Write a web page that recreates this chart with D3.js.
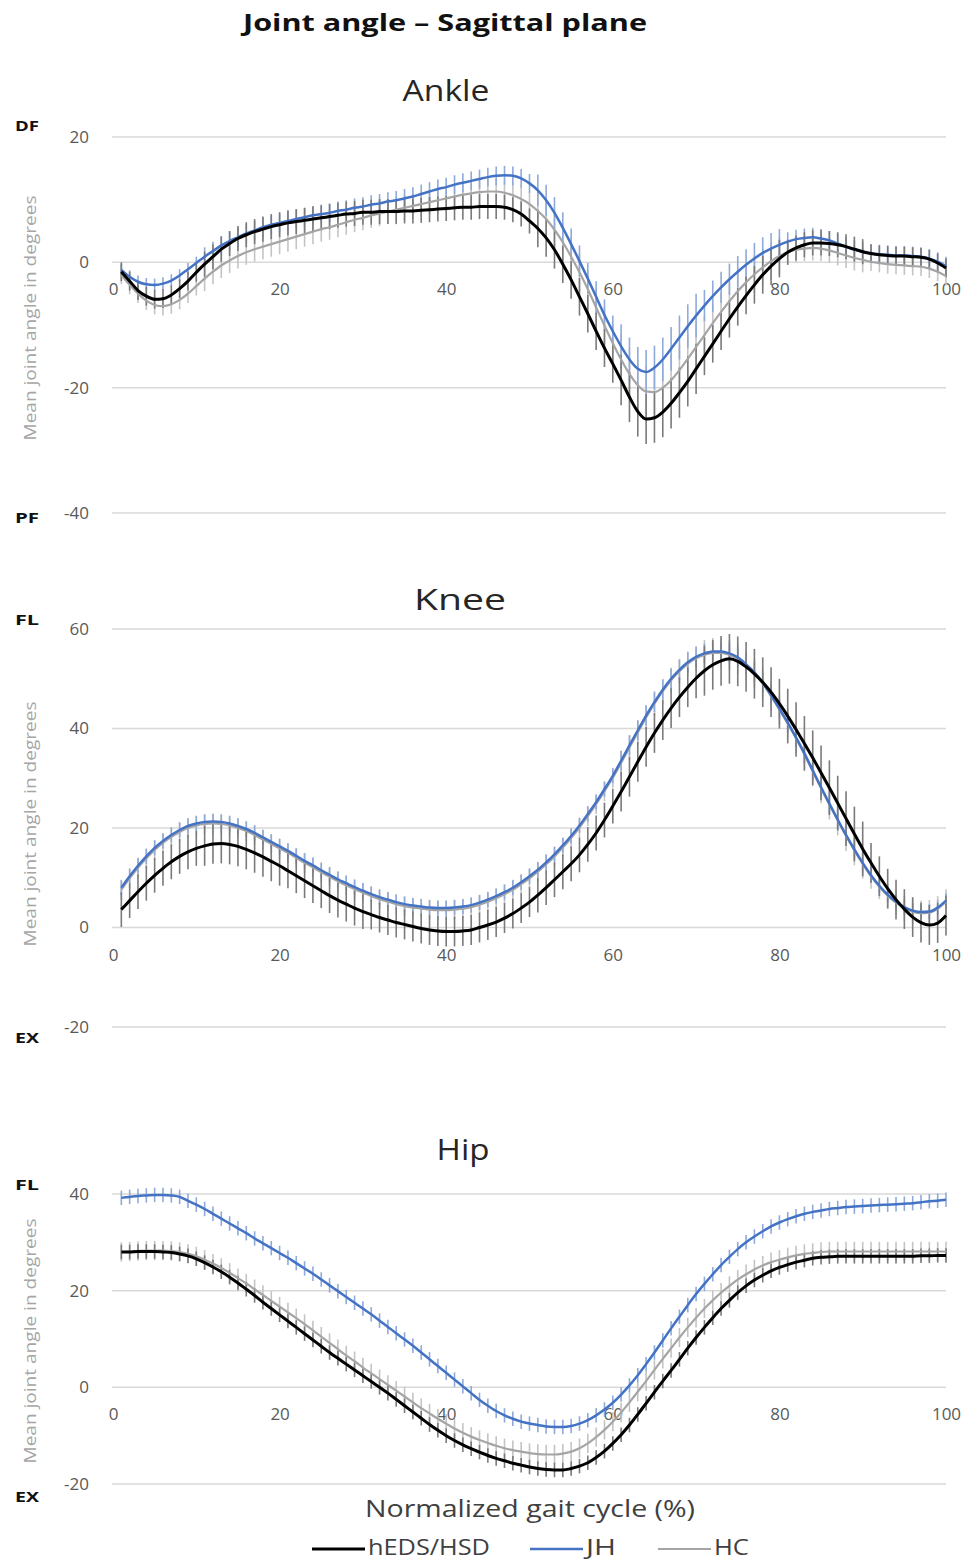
<!DOCTYPE html>
<html>
<head>
<meta charset="utf-8">
<script src="https://cdn.jsdelivr.net/npm/d3@7"></script>
<style>
  html, body { margin: 0; padding: 0; background: #fff; }
  svg { display: block; font-family: "Open Sans", "Noto Sans", sans-serif; }
</style>
</head>
<body>
<svg id="chart" width="966" height="1561"></svg>
<script>
// Gelenkwinkel Sagittalebene – Mittelwert +/- SD je Gruppe, 1..100 % Gangzyklus

const groups = ["HC", "JH", "hEDS/HSD"];   // Zeichenreihenfolge (schwarz oben)
const legendOrder = ["hEDS/HSD", "JH", "HC"];
const xTicks = [0, 20, 40, 60, 80, 100];

// ---- Ankle ----
const ankleTicks = [-40, -20, 0, 20];
const ankleHeds = [
  -1.5, -3.0, -4.5, -5.4, -5.9, -5.8, -5.2, -4.2, -3.0, -1.6,
  -0.3, 0.9, 2.1, 3.0, 3.8, 4.4, 4.9, 5.3, 5.7, 6.0,
  6.3, 6.5, 6.7, 6.9, 7.1, 7.3, 7.5, 7.7, 7.8, 8.0,
  8.0, 8.1, 8.1, 8.1, 8.2, 8.2, 8.3, 8.4, 8.5, 8.6,
  8.7, 8.8, 8.8, 8.9, 8.9, 8.9, 8.8, 8.4, 7.7, 6.6,
  5.4, 3.9, 2.0, -0.3, -2.8, -5.5, -8.2, -11.0, -13.7, -16.2,
  -18.8, -21.5, -23.8, -25.0, -24.8, -23.9, -22.5, -20.8, -19.0, -17.0,
  -15.0, -13.0, -11.0, -9.0, -7.1, -5.3, -3.6, -2.0, -0.6, 0.6,
  1.6, 2.3, 2.8, 3.1, 3.1, 3.0, 2.8, 2.5, 2.1, 1.7,
  1.4, 1.2, 1.1, 1.0, 1.0, 0.9, 0.8, 0.5, -0.1, -0.9
];
const ankleJh = [
  -1.2, -2.3, -3.1, -3.5, -3.6, -3.4, -2.9, -2.1, -1.1, -0.1,
  0.9, 1.8, 2.7, 3.4, 4.0, 4.6, 5.1, 5.6, 6.0, 6.3,
  6.6, 6.9, 7.2, 7.5, 7.7, 7.9, 8.2, 8.4, 8.7, 8.9,
  9.2, 9.4, 9.7, 9.9, 10.2, 10.5, 10.9, 11.3, 11.7, 12.0,
  12.4, 12.7, 13.0, 13.3, 13.6, 13.8, 13.9, 13.8, 13.4, 12.6,
  11.5, 9.9, 7.9, 5.5, 2.9, 0.2, -2.6, -5.5, -8.4, -11.0,
  -13.4, -15.5, -17.0, -17.5, -16.8, -15.5, -13.8, -12.0, -10.2, -8.5,
  -6.9, -5.4, -4.0, -2.7, -1.5, -0.4, 0.6, 1.5, 2.2, 2.8,
  3.3, 3.7, 3.9, 4.0, 3.8, 3.5, 3.0, 2.5, 2.0, 1.7,
  1.4, 1.3, 1.2, 1.1, 1.1, 1.0, 0.9, 0.6, 0.1, -0.6
];
const ankleHc = [
  -2.0, -3.6, -5.0, -6.1, -6.8, -7.0, -6.7, -6.0, -5.0, -3.8,
  -2.6, -1.5, -0.5, 0.3, 1.0, 1.6, 2.1, 2.5, 2.9, 3.3,
  3.7, 4.1, 4.5, 4.9, 5.3, 5.6, 6.0, 6.4, 6.8, 7.1,
  7.5, 7.8, 8.1, 8.4, 8.7, 9.0, 9.3, 9.6, 9.9, 10.2,
  10.5, 10.8, 11.0, 11.2, 11.3, 11.3, 11.1, 10.7, 10.1, 9.3,
  8.2, 6.9, 5.2, 3.2, 0.9, -1.6, -4.3, -7.2, -10.1, -12.9,
  -15.5, -17.8, -19.6, -20.6, -20.7, -20.0, -18.8, -17.2, -15.4, -13.5,
  -11.6, -9.7, -7.9, -6.2, -4.6, -3.2, -1.9, -0.8, 0.2, 1.0,
  1.6, 2.0, 2.2, 2.3, 2.2, 1.9, 1.5, 1.1, 0.7, 0.4,
  0.1, -0.1, -0.3, -0.4, -0.5, -0.6, -0.7, -1.0, -1.5, -2.2
];
// SD je 10-%-Abschnitt
const ankleSdHeds = [1.5, 2, 2, 2, 2, 3, 4, 3, 2, 1.5];
const ankleSdJh   = [1, 1.5, 1.5, 1.5, 1.5, 2.5, 3.5, 2.5, 1.5, 1.5];
const ankleSdHc   = [1.5, 2, 2, 2, 2, 3, 4, 3, 2, 1.5];

// ---- Knee ----
const kneeTicks = [-20, 0, 20, 40, 60];
const kneeHeds = [
  3.6, 5.4, 7.2, 8.9, 10.5, 11.9, 13.2, 14.3, 15.2, 15.9,
  16.4, 16.8, 16.9, 16.7, 16.3, 15.7, 15.0, 14.2, 13.3, 12.4,
  11.4, 10.4, 9.4, 8.4, 7.4, 6.4, 5.5, 4.7, 3.9, 3.2,
  2.6, 2.0, 1.5, 1.0, 0.6, 0.2, -0.2, -0.5, -0.7, -0.8,
  -0.8, -0.7, -0.5, 0.0, 0.5, 1.1, 1.9, 2.8, 3.9, 5.1,
  6.5, 8.0, 9.6, 11.2, 12.8, 14.6, 16.7, 19.0, 21.6, 24.4,
  27.3, 30.3, 33.3, 36.3, 39.1, 41.7, 44.1, 46.3, 48.3, 50.1,
  51.6, 52.8, 53.6, 54.0, 53.5, 52.4, 51.0, 49.3, 47.3, 45.0,
  42.5, 39.8, 37.0, 34.1, 31.1, 28.1, 25.0, 21.9, 18.8, 15.8,
  13.0, 10.3, 7.8, 5.6, 3.7, 2.1, 1.0, 0.5, 0.9, 2.4
];
const kneeJh = [
  8.0, 10.3, 12.4, 14.3, 16.0, 17.4, 18.6, 19.6, 20.4, 20.9,
  21.2, 21.3, 21.2, 20.9, 20.4, 19.8, 19.0, 18.1, 17.2, 16.3,
  15.4, 14.4, 13.4, 12.5, 11.5, 10.6, 9.7, 8.9, 8.1, 7.4,
  6.7, 6.1, 5.6, 5.1, 4.7, 4.4, 4.2, 4.0, 3.9, 3.9,
  4.0, 4.2, 4.5, 5.0, 5.6, 6.3, 7.1, 8.0, 9.1, 10.3,
  11.6, 13.1, 14.7, 16.5, 18.4, 20.5, 22.8, 25.2, 27.8, 30.5,
  33.5, 36.6, 39.6, 42.6, 45.3, 47.8, 50.0, 51.8, 53.3, 54.4,
  55.1, 55.5, 55.5, 55.1, 54.3, 52.9, 51.3, 49.2, 46.7, 44.0,
  41.2, 38.2, 35.0, 31.6, 28.2, 24.9, 21.7, 18.6, 15.7, 13.0,
  10.5, 8.4, 6.6, 5.2, 4.1, 3.4, 3.1, 3.2, 4.0, 5.4
];
const kneeHc = [
  7.6, 9.9, 12.0, 13.9, 15.6, 17.0, 18.2, 19.2, 20.0, 20.5,
  20.8, 20.9, 20.8, 20.5, 20.0, 19.4, 18.6, 17.7, 16.8, 15.9,
  15.0, 14.0, 13.0, 12.1, 11.1, 10.2, 9.3, 8.5, 7.7, 7.0,
  6.3, 5.7, 5.2, 4.7, 4.3, 4.0, 3.8, 3.6, 3.5, 3.5,
  3.6, 3.8, 4.1, 4.6, 5.2, 5.9, 6.7, 7.6, 8.7, 9.9,
  11.2, 12.7, 14.3, 16.1, 18.0, 20.1, 22.4, 24.8, 27.4, 30.1,
  33.1, 36.2, 39.2, 42.2, 45.0, 47.5, 49.7, 51.5, 53.0, 54.1,
  54.8, 55.2, 55.2, 54.8, 54.0, 52.7, 51.1, 49.0, 46.5, 43.8,
  41.0, 38.0, 34.8, 31.4, 28.0, 24.7, 21.5, 18.4, 15.5, 12.8,
  10.3, 8.2, 6.4, 5.0, 3.9, 3.2, 2.9, 3.0, 3.8, 5.2
];
const kneeSdHeds = [3.5, 4, 3.5, 3, 3, 3.5, 4, 5, 5.5, 4];
const kneeSdJh   = [1.5, 1.5, 1.5, 1.5, 1.5, 1.5, 2, 2, 2, 1.5];
const kneeSdHc   = [2, 2, 2, 2, 2, 2, 2.5, 3, 3, 2.5];

// ---- Hip ----
const hipTicks = [-20, 0, 20, 40];
const hipHeds = [
  28.0, 28.0, 28.1, 28.1, 28.1, 28.0, 27.9, 27.6, 27.2, 26.6,
  25.8, 24.9, 23.9, 22.8, 21.6, 20.3, 19.0, 17.6, 16.3, 15.0,
  13.7, 12.4, 11.1, 9.8, 8.5, 7.2, 6.0, 4.8, 3.6, 2.4,
  1.2, 0.0, -1.2, -2.5, -3.8, -5.1, -6.4, -7.7, -8.9, -10.0,
  -11.0, -11.9, -12.7, -13.4, -14.1, -14.7, -15.2, -15.7, -16.1, -16.5,
  -16.8, -17.0, -17.1, -17.1, -16.8, -16.3, -15.6, -14.5, -13.2, -11.6,
  -9.8, -7.8, -5.6, -3.3, -1.0, 1.3, 3.5, 5.8, 8.1, 10.3,
  12.4, 14.4, 16.3, 18.0, 19.6, 21.0, 22.2, 23.2, 24.1, 24.8,
  25.4, 25.9, 26.3, 26.7, 26.9, 27.0, 27.1, 27.1, 27.1, 27.1,
  27.1, 27.1, 27.1, 27.1, 27.1, 27.1, 27.2, 27.2, 27.3, 27.3
];
const hipJh = [
  39.2, 39.4, 39.6, 39.7, 39.8, 39.8, 39.7, 39.4, 38.6, 37.8,
  36.9, 35.9, 34.9, 33.9, 32.9, 31.9, 30.8, 29.8, 28.8, 27.8,
  26.8, 25.7, 24.6, 23.5, 22.3, 21.1, 19.9, 18.7, 17.5, 16.3,
  15.1, 13.8, 12.5, 11.2, 9.9, 8.6, 7.2, 5.8, 4.4, 3.0,
  1.6, 0.2, -1.2, -2.6, -3.8, -4.9, -5.8, -6.5, -7.1, -7.5,
  -7.8, -8.1, -8.2, -8.2, -8.0, -7.5, -6.8, -5.8, -4.6, -3.2,
  -1.5, 0.4, 2.5, 4.8, 7.2, 9.7, 12.2, 14.6, 17.0, 19.3,
  21.4, 23.4, 25.3, 27.0, 28.6, 30.0, 31.2, 32.3, 33.3, 34.1,
  34.8, 35.4, 35.9, 36.3, 36.6, 36.9, 37.1, 37.3, 37.4, 37.5,
  37.6, 37.7, 37.8, 37.9, 38.0, 38.1, 38.3, 38.5, 38.6, 38.8
];
const hipHc = [
  28.0, 28.1, 28.2, 28.3, 28.3, 28.3, 28.2, 28.0, 27.6, 27.1,
  26.4, 25.6, 24.7, 23.7, 22.6, 21.5, 20.3, 19.1, 17.9, 16.7,
  15.5, 14.3, 13.1, 11.8, 10.5, 9.2, 7.9, 6.6, 5.4, 4.1,
  2.9, 1.7, 0.5, -0.7, -1.9, -3.1, -4.3, -5.4, -6.5, -7.5,
  -8.5, -9.4, -10.2, -10.9, -11.5, -12.1, -12.6, -13.0, -13.3, -13.6,
  -13.8, -13.9, -13.9, -13.7, -13.3, -12.6, -11.6, -10.3, -8.8, -7.1,
  -5.2, -3.1, -0.9, 1.3, 3.6, 5.9, 8.1, 10.3, 12.4, 14.4,
  16.3, 18.0, 19.6, 21.0, 22.3, 23.4, 24.4, 25.2, 25.9, 26.4,
  26.9, 27.3, 27.6, 27.8, 28.0, 28.1, 28.1, 28.1, 28.1, 28.1,
  28.1, 28.1, 28.1, 28.1, 28.1, 28.1, 28.1, 28.1, 28.1, 28.1
];
const hipSdHeds = [1.5, 1.5, 1.5, 1.5, 1.5, 1.5, 1.5, 1.5, 1.5, 1.5];
const hipSdJh   = [1.5, 1.5, 1.5, 1.5, 1.5, 1.5, 1.5, 1.5, 1.5, 1.5];
const hipSdHc   = [2, 2, 2, 2, 2, 2, 2, 2, 2, 2];

// ---- Styles ----
const lineColor = { "hEDS/HSD": "#000000", "JH": "#4472c4", "HC": "#a5a5a5" };
const barColor  = { "hEDS/HSD": "#7a7a7a", "JH": "#8eaadb", "HC": "#c4c4c4" };
const lineWidth = { "hEDS/HSD": 3, "JH": 2.5, "HC": 2.2 };

const svg = d3.select("#chart");
const x = d3.scaleLinear().domain([0, 100]).range([113, 946]);

// Text mit fester Breite (Original ist horizontal gestreckt)
function fitText(sel, width) {
  return sel.attr("textLength", width).attr("lengthAdjust", "spacingAndGlyphs");
}

// Panel-Layout (Pixelpositionen wie im Original)
const panels = [
  { title: "Ankle", titleX: 446, titleY: 93, titleW: 87, ticks: ankleTicks, top: 137, bottom: 513,
    pos: "DF", posY: 127, neg: "PF", negY: 519, axisTitleY: 318,
    mean: { "hEDS/HSD": ankleHeds, "JH": ankleJh, "HC": ankleHc },
    sd:   { "hEDS/HSD": ankleSdHeds, "JH": ankleSdJh, "HC": ankleSdHc } },
  { title: "Knee", titleX: 460, titleY: 602, titleW: 92, ticks: kneeTicks, top: 629, bottom: 1027,
    pos: "FL", posY: 621, neg: "EX", negY: 1039, axisTitleY: 824,
    mean: { "hEDS/HSD": kneeHeds, "JH": kneeJh, "HC": kneeHc },
    sd:   { "hEDS/HSD": kneeSdHeds, "JH": kneeSdJh, "HC": kneeSdHc } },
  { title: "Hip", titleX: 463, titleY: 1152, titleW: 53, ticks: hipTicks, top: 1194, bottom: 1484,
    pos: "FL", posY: 1186, neg: "EX", negY: 1498, axisTitleY: 1341,
    mean: { "hEDS/HSD": hipHeds, "JH": hipJh, "HC": hipHc },
    sd:   { "hEDS/HSD": hipSdHeds, "JH": hipSdJh, "HC": hipSdHc } }
];

// Haupttitel
fitText(svg.append("text")
  .attr("x", 445)
  .attr("y", 25)
  .attr("text-anchor", "middle")
  .attr("dominant-baseline", "middle")
  .attr("font-size", "24px")
  .attr("font-weight", "700")
  .attr("fill", "#111")
  .text("Joint angle \u2013 Sagittal plane"), 404);

panels.forEach(p => {
  const y = d3.scaleLinear()
    .domain(d3.extent(p.ticks))
    .range([p.bottom, p.top]);

  const g = svg.append("g").attr("class", "panel");

  // Gitterlinien
  g.selectAll("line.grid")
    .data(p.ticks)
    .enter()
    .append("line")
      .attr("class", "grid")
      .attr("x1", 112)
      .attr("x2", 946)
      .attr("y1", d => y(d))
      .attr("y2", d => y(d))
      .attr("stroke", "#d9d9d9")
      .attr("stroke-width", 1.5);

  // y-Achse (nur Beschriftung)
  const yAxis = g.append("g")
    .attr("transform", "translate(92,0)")
    .call(d3.axisLeft(y).tickValues(p.ticks).tickFormat(d => String(d)).tickSize(0).tickPadding(3));
  yAxis.select(".domain").remove();
  yAxis.selectAll("text")
    .attr("font-size", "17px")
    .attr("font-family", "\"Open Sans\", sans-serif")
    .attr("fill", "#595959");

  // x-Achse kreuzt bei 0
  const xAxis = g.append("g")
    .attr("transform", `translate(0,${y(0)})`)
    .call(d3.axisBottom(x).tickValues(xTicks).tickFormat(d => String(d)).tickSize(0).tickPadding(21));
  xAxis.select(".domain").remove();
  xAxis.selectAll("text")
    .attr("font-size", "17px")
    .attr("font-family", "\"Open Sans\", sans-serif")
    .attr("fill", "#595959");

  // Panel-Titel
  fitText(g.append("text")
    .attr("x", p.titleX)
    .attr("y", p.titleY)
    .attr("text-anchor", "middle")
    .attr("dominant-baseline", "middle")
    .attr("font-size", "29px")
    .attr("fill", "#262626")
    .text(p.title), p.titleW);

  // Richtungslabels
  [[p.pos, p.posY], [p.neg, p.negY]].forEach(([t, yy]) => {
    fitText(g.append("text")
      .attr("x", 15)
      .attr("y", yy)
      .attr("dominant-baseline", "middle")
      .attr("font-size", "15px")
      .attr("font-weight", "700")
      .attr("fill", "#111")
      .text(t), 24);
  });

  // y-Achsentitel
  fitText(g.append("text")
    .attr("transform", `translate(31,${p.axisTitleY}) rotate(-90)`)
    .attr("text-anchor", "middle")
    .attr("dominant-baseline", "middle")
    .attr("font-size", "17px")
    .attr("fill", "#a6a6a6")
    .text("Mean joint angle in degrees"), 245);

  // Fehlerbalken (SD)
  groups.forEach(k => {
    const pts = p.mean[k].map((m, i) => ({ pct: i + 1, m, sd: p.sd[k][Math.floor(i / 10)] }));
    g.append("g")
      .selectAll("line")
      .data(pts)
      .enter()
      .append("line")
        .attr("x1", d => x(d.pct))
        .attr("x2", d => x(d.pct))
        .attr("y1", d => y(d.m - d.sd))
        .attr("y2", d => y(d.m + d.sd))
        .attr("stroke", barColor[k])
        .attr("stroke-width", 1.6);
  });

  // Mittelwertkurven
  const line = d3.line()
    .x((d, i) => x(i + 1))
    .y(d => y(d))
    .curve(d3.curveMonotoneX);

  groups.forEach(k => {
    g.append("path")
      .datum(p.mean[k])
      .attr("d", line)
      .attr("fill", "none")
      .attr("stroke", lineColor[k])
      .attr("stroke-width", lineWidth[k])
      .attr("stroke-linejoin", "round");
  });
});

// x-Achsentitel
fitText(svg.append("text")
  .attr("x", 530)
  .attr("y", 1511)
  .attr("text-anchor", "middle")
  .attr("dominant-baseline", "middle")
  .attr("font-size", "23px")
  .attr("fill", "#404040")
  .text("Normalized gait cycle (%)"), 330);

// Legende
const legendX = { "hEDS/HSD": 312, "JH": 530, "HC": 658 };
const legendW = { "hEDS/HSD": 122, "JH": 30, "HC": 35 };
const legend = svg.append("g").attr("class", "legend");
const items = legend.selectAll("g")
  .data(legendOrder)
  .enter()
  .append("g")
    .attr("transform", d => `translate(${legendX[d]},1549)`);

items.append("line")
  .attr("x1", 0)
  .attr("x2", 53)
  .attr("stroke", d => lineColor[d])
  .attr("stroke-width", d => lineWidth[d]);

items.append("text")
  .attr("x", 56)
  .attr("dominant-baseline", "middle")
  .attr("font-size", "21px")
  .attr("fill", "#404040")
  .attr("textLength", d => legendW[d])
  .attr("lengthAdjust", "spacingAndGlyphs")
  .text(d => d);
</script>
</body>
</html>
